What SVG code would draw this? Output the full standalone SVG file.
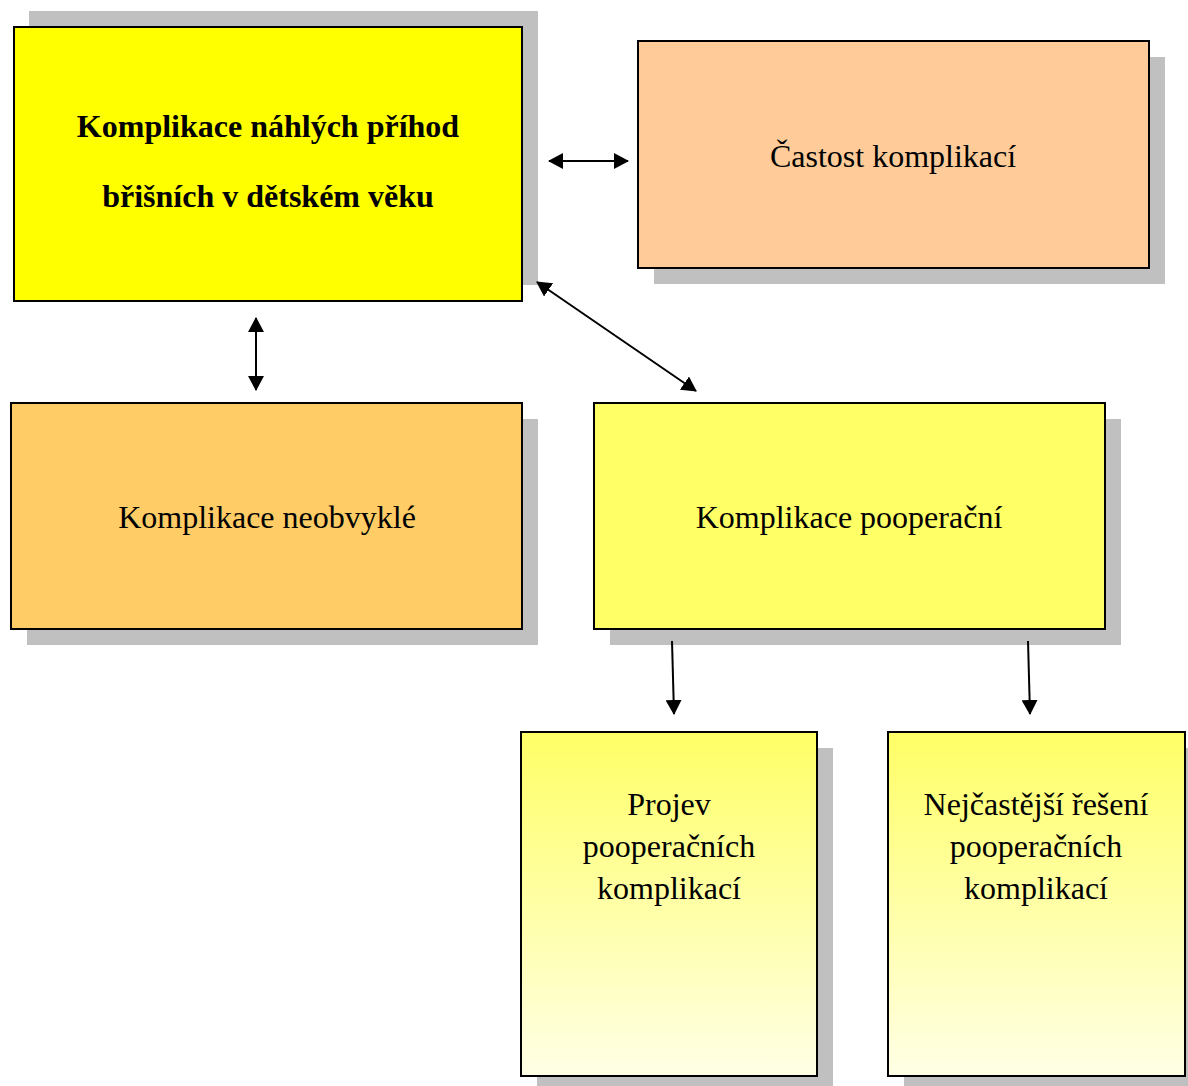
<svg xmlns="http://www.w3.org/2000/svg" width="1188" height="1086" viewBox="0 0 1188 1086">
  <style>
    .shadow { fill: #c0c0c0; }
    .box { stroke: #000; stroke-width: 2; }
    .lbl { font-family: "Liberation Serif", "Times New Roman", serif; font-size: 32px; fill: #000; text-anchor: middle; }
    .bold { font-weight: bold; }
    .conn { stroke: #000; stroke-width: 2; fill: none; }
  </style>
  <defs>
    <marker id="arrow" viewBox="0 0 15 16" refX="14" refY="8" markerWidth="7.5" markerHeight="8" markerUnits="strokeWidth" orient="auto-start-reverse">
      <path d="M0,0 L15,8 L0,16 z" fill="#000"/>
    </marker>
    <linearGradient id="fade" x1="0" y1="0" x2="0" y2="1">
      <stop offset="0" stop-color="#ffff66"/>
      <stop offset="1" stop-color="#ffffe6"/>
    </linearGradient>
  </defs>

  <g id="node-main">
    <rect class="shadow" x="29" y="11" width="509" height="274"/>
    <rect class="box" x="14" y="27" width="508" height="274" fill="#ffff00"/>
    <text class="lbl bold" x="268" y="137">Komplikace náhlých příhod</text>
    <text class="lbl bold" x="268" y="207">břišních v dětském věku</text>
  </g>

  <g id="node-castost">
    <rect class="shadow" x="654" y="57" width="511" height="227"/>
    <rect class="box" x="638" y="41" width="511" height="227" fill="#ffcc99"/>
    <text class="lbl" x="893" y="167">Častost komplikací</text>
  </g>

  <g id="node-neobvykle">
    <rect class="shadow" x="27" y="419" width="511" height="226"/>
    <rect class="box" x="11" y="403" width="511" height="226" fill="#ffcc66"/>
    <text class="lbl" x="267" y="528">Komplikace neobvyklé</text>
  </g>

  <g id="node-pooperacni">
    <rect class="shadow" x="610" y="419" width="511" height="226"/>
    <rect class="box" x="594" y="403" width="511" height="226" fill="#ffff66"/>
    <text class="lbl" x="849" y="528">Komplikace pooperační</text>
  </g>

  <g id="node-projev">
    <rect class="shadow" x="537" y="748" width="296" height="344"/>
    <rect class="box" x="521" y="732" width="296" height="344" fill="url(#fade)"/>
    <text class="lbl" x="669" y="815">Projev</text>
    <text class="lbl" x="669" y="857">pooperačních</text>
    <text class="lbl" x="669" y="899">komplikací</text>
  </g>

  <g id="node-reseni">
    <rect class="shadow" x="904" y="748" width="297" height="344"/>
    <rect class="box" x="888" y="732" width="297" height="344" fill="url(#fade)"/>
    <text class="lbl" x="1036" y="815">Nejčastější řešení</text>
    <text class="lbl" x="1036" y="857">pooperačních</text>
    <text class="lbl" x="1036" y="899">komplikací</text>
  </g>

  <g id="connectors">
    <line class="conn" x1="549" y1="161" x2="628" y2="161" marker-start="url(#arrow)" marker-end="url(#arrow)"/>
    <line class="conn" x1="256" y1="318" x2="256" y2="390" marker-start="url(#arrow)" marker-end="url(#arrow)"/>
    <line class="conn" x1="537" y1="282" x2="696" y2="391" marker-start="url(#arrow)" marker-end="url(#arrow)"/>
    <line class="conn" x1="672" y1="641" x2="674" y2="714" marker-end="url(#arrow)"/>
    <line class="conn" x1="1028" y1="641" x2="1030" y2="714" marker-end="url(#arrow)"/>
  </g>
</svg>
